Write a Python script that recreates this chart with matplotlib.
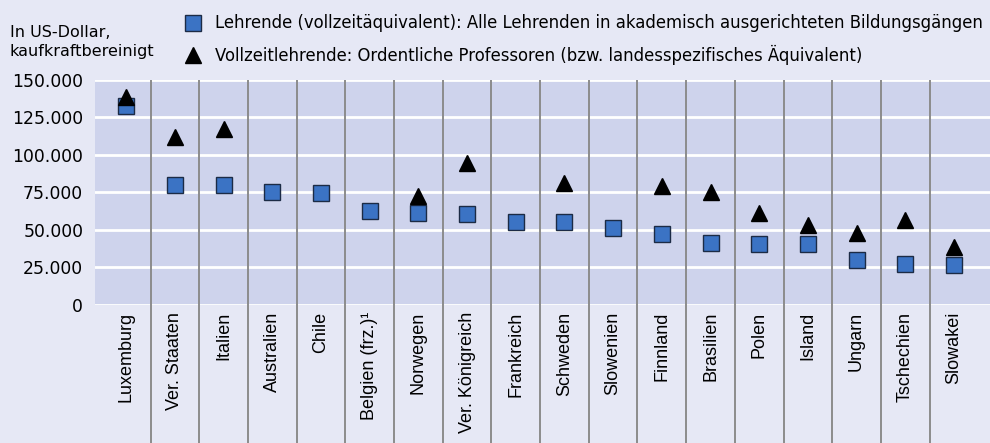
import numpy as np
import matplotlib.pyplot as plt
from matplotlib.ticker import FuncFormatter, MultipleLocator

laender = ['Luxemburg', 'Ver. Staaten', 'Italien', 'Australien', 'Chile',
           'Belgien (frz.)¹', 'Norwegen', 'Ver. Königreich', 'Frankreich',
           'Schweden', 'Slowenien', 'Finnland', 'Brasilien', 'Polen',
           'Island', 'Ungarn', 'Tschechien', 'Slowakei']

# Lehrende (vollzeitaequivalent), alle akademischen Bildungsgaenge
lehrende = [132500, 80000, 80000, 75000, 74500, 62500, 61000, 60500, 55000,
            55000, 51000, 47000, 41000, 40500, 40500, 30200, 27500, 26500]

# ordentliche Professoren, NaN = keine Angabe
professoren = [138500, 112000, 117000, np.nan, np.nan, np.nan, 72500, 94500,
               np.nan, 81000, np.nan, 79500, 75500, 61000, 53000, 48000,
               56500, 38500]

bg_out = '#e6e8f5'
bg_in = '#ced3ec'
blau = '#3b73c4'
kante = '#1c2b45'
trenn = '#8c8c8c'

plt.rcParams['font.family'] = ['Liberation Sans', 'DejaVu Sans']

fig = plt.figure(figsize=(9.9, 4.43), dpi=100, facecolor=bg_out)
ax = fig.add_axes([0.096, 0.3115, 0.904, 0.508])
ax.set_facecolor(bg_in)

x = np.arange(len(laender))
ax.set_xlim(-0.64, 17.74)
ax.set_ylim(0, 150000)

ax.yaxis.set_major_locator(MultipleLocator(25000))
ax.yaxis.set_major_formatter(FuncFormatter(lambda v, p: f'{v:,.0f}'.replace(',', '.')))
ax.grid(axis='y', color='white', linewidth=2)
ax.set_axisbelow(True)

# Trennlinien zwischen den Laendern, bis unter die Beschriftung
ax.vlines(x[:-1] + 0.5, -1.45, 1, transform=ax.get_xaxis_transform(),
          color=trenn, linewidth=1.4, clip_on=False, zorder=1)

ax.plot(x, lehrende, 's', ms=11, mfc=blau, mec=kante, mew=1.0, zorder=3)
ax.plot(x, professoren, '^', ms=11, color='black', zorder=4)

ax.set_xticks(x)
ax.set_xticklabels(laender, rotation=90, fontsize=13)
ax.tick_params(axis='x', length=0, pad=5)
ax.tick_params(axis='y', length=0, pad=8.5)
for lab in ax.get_yticklabels():
    lab.set_fontfamily('DejaVu Sans')
    lab.set_fontsize(12.4)
for s in ax.spines.values():
    s.set_visible(False)

fig.text(0.010, 0.905, 'In US-Dollar,\nkaufkraftbereinigt', fontsize=11.5,
         family='DejaVu Sans', va='center', ha='left', linespacing=1.3)

# Legende von Hand
fig.add_artist(plt.Line2D([0.195], [0.947], marker='s', ms=11, mfc=blau,
                          mec=kante, mew=1.0, transform=fig.transFigure))
fig.add_artist(plt.Line2D([0.195], [0.876], marker='^', ms=11, color='black',
                          transform=fig.transFigure))
fig.text(0.217, 0.947,
         'Lehrende (vollzeitäquivalent): Alle Lehrenden in akademisch ausgerichteten Bildungsgängen',
         fontsize=11.9, family='DejaVu Sans', va='center', ha='left')
fig.text(0.217, 0.876,
         'Vollzeitlehrende: Ordentliche Professoren (bzw. landesspezifisches Äquivalent)',
         fontsize=11.9, family='DejaVu Sans', va='center', ha='left')

fig.savefig('out.png', dpi=100, facecolor=bg_out)
